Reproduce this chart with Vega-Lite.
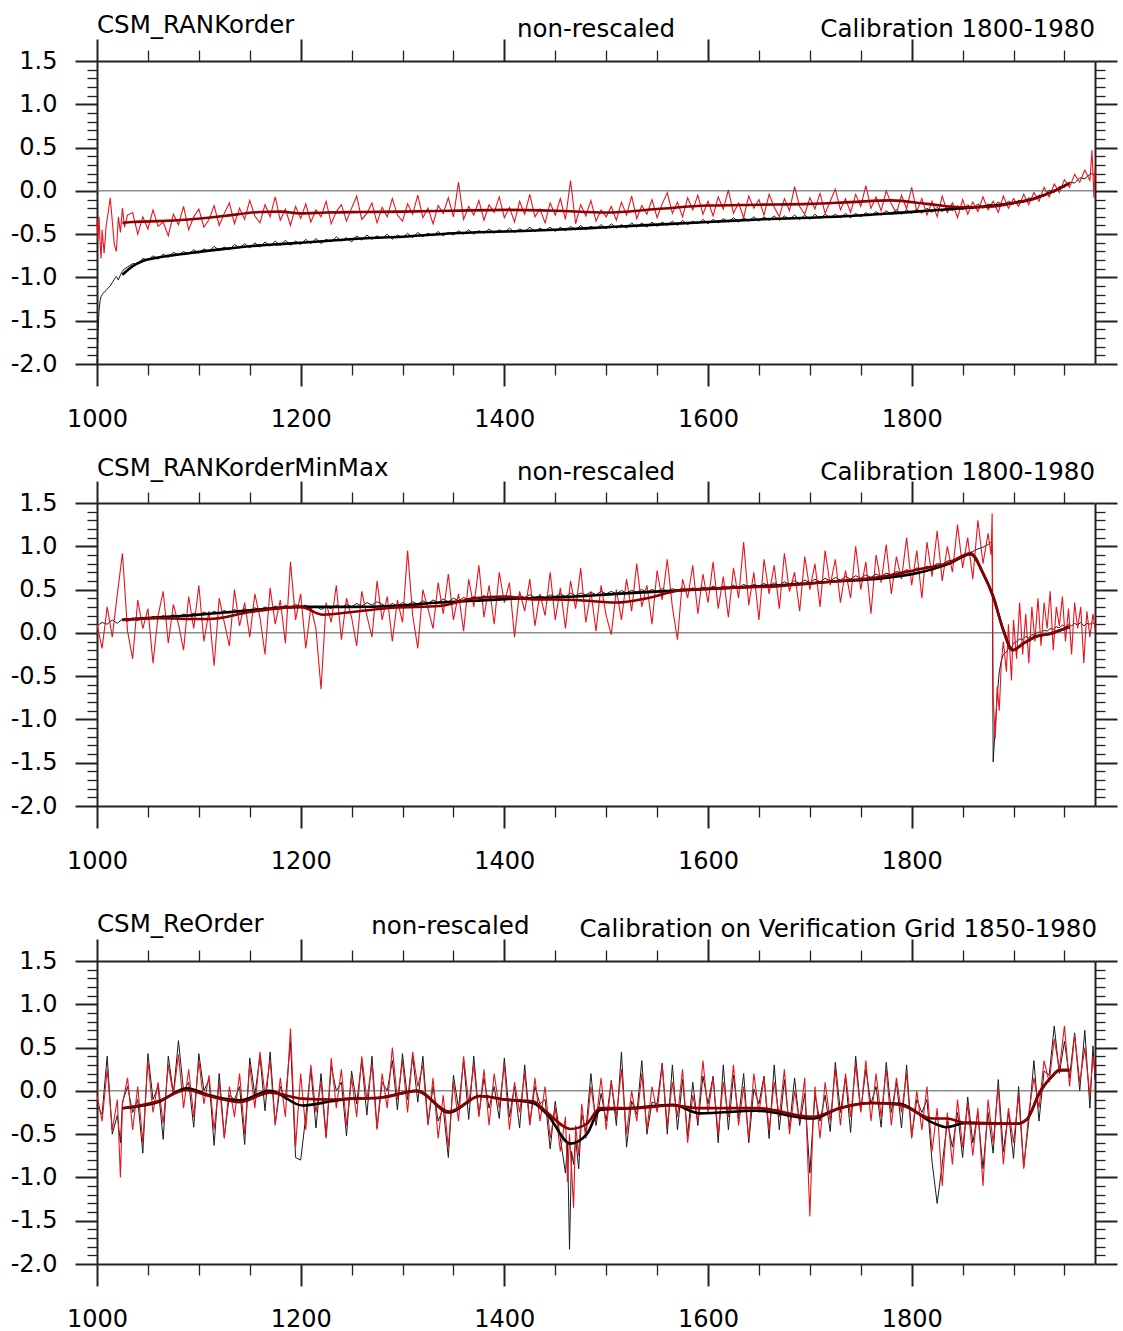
{
"$schema": "https://vega.github.io/schema/vega-lite/v6.json",
"background": "white",
"padding": {"left": 10, "top": 13, "right": 5, "bottom": 0},
"autosize": {"type": "pad"},
"bounds": "flush",
"spacing": 139,
"config": {"view": {"stroke": null}, "font": "DejaVu Sans",
 "axis": {"grid": false, "domainColor": "#222", "domainWidth": 2, "tickColor": "#222", "labelFont": "DejaVu Sans", "labelFontSize": 24, "labelColor": "black", "labelOverlap": false, "labelBound": false, "labelFlush": false}},
"datasets": {
"p1": [
{"t":1000,"r":-0.35,"k":-2.0},{"t":1001,"r":-0.55,"k":-1.62},{"t":1002,"r":-0.30,"k":-1.38},{"t":1003,"r":-0.60,"k":-1.27},{"t":1004,"r":-0.78,"k":-1.22},{"t":1005,"r":-0.45,"k":-1.20},{"t":1007,"r":-0.72,"k":-1.17},{"t":1009,"r":-0.40,"k":-1.15},{"t":1011,"r":-0.25,"k":-1.12},{"t":1013,"r":-0.08,"k":-1.10},{"t":1015,"r":-0.35,"k":-1.06},{"t":1017,"r":-0.62,"k":-1.02},{"t":1019,"r":-0.70,"k":-0.99},{"t":1021,"r":-0.30,"k":-1.03},{"t":1023,"r":-0.48,"k":-0.97},{"t":1025,"r":-0.20,"k":-0.93},{"t":1027,"r":-0.42,"k":-0.90},{"t":1030,"r":-0.28,"k":-0.88},
{"t":1035,"r":-0.25,"k":-0.84},{"t":1040,"r":-0.50,"k":-0.85},{"t":1045,"r":-0.30,"k":-0.78},{"t":1050,"r":-0.44,"k":-0.80},{"t":1055,"r":-0.22,"k":-0.75},{"t":1060,"r":-0.41,"k":-0.79},{"t":1065,"r":-0.36,"k":-0.73},{"t":1070,"r":-0.52,"k":-0.77},{"t":1075,"r":-0.27,"k":-0.71},{"t":1080,"r":-0.39,"k":-0.74},{"t":1085,"r":-0.18,"k":-0.70},{"t":1090,"r":-0.45,"k":-0.73},{"t":1095,"r":-0.30,"k":-0.68},{"t":1100,"r":-0.21,"k":-0.72},
{"t":1105,"r":-0.42,"k":-0.67},{"t":1110,"r":-0.33,"k":-0.70},{"t":1115,"r":-0.17,"k":-0.64},{"t":1120,"r":-0.40,"k":-0.69},{"t":1125,"r":-0.26,"k":-0.65},{"t":1130,"r":-0.14,"k":-0.68},{"t":1135,"r":-0.38,"k":-0.62},{"t":1140,"r":-0.20,"k":-0.66},{"t":1145,"r":-0.33,"k":-0.61},{"t":1150,"r":-0.11,"k":-0.66},{"t":1155,"r":-0.29,"k":-0.60},{"t":1160,"r":-0.37,"k":-0.65},{"t":1165,"r":-0.16,"k":-0.59},{"t":1170,"r":-0.30,"k":-0.64},{"t":1175,"r":-0.07,"k":-0.58},{"t":1180,"r":-0.34,"k":-0.63},{"t":1185,"r":-0.21,"k":-0.57},{"t":1190,"r":-0.40,"k":-0.63},{"t":1195,"r":-0.18,"k":-0.58},{"t":1200,"r":-0.32,"k":-0.62},
{"t":1205,"r":-0.15,"k":-0.56},{"t":1210,"r":-0.36,"k":-0.61},{"t":1215,"r":-0.22,"k":-0.55},{"t":1220,"r":-0.30,"k":-0.61},{"t":1225,"r":-0.12,"k":-0.56},{"t":1230,"r":-0.38,"k":-0.59},{"t":1235,"r":-0.24,"k":-0.53},{"t":1240,"r":-0.16,"k":-0.58},{"t":1245,"r":-0.35,"k":-0.54},{"t":1250,"r":-0.20,"k":-0.59},{"t":1255,"r":-0.06,"k":-0.52},{"t":1260,"r":-0.33,"k":-0.57},{"t":1265,"r":-0.26,"k":-0.51},{"t":1270,"r":-0.14,"k":-0.56},{"t":1275,"r":-0.37,"k":-0.52},{"t":1280,"r":-0.19,"k":-0.55},{"t":1285,"r":-0.30,"k":-0.50},{"t":1290,"r":-0.09,"k":-0.56},{"t":1295,"r":-0.28,"k":-0.51},{"t":1300,"r":-0.35,"k":-0.54},
{"t":1305,"r":-0.15,"k":-0.49},{"t":1310,"r":-0.27,"k":-0.54},{"t":1315,"r":-0.05,"k":-0.48},{"t":1320,"r":-0.31,"k":-0.53},{"t":1325,"r":-0.20,"k":-0.49},{"t":1330,"r":-0.38,"k":-0.52},{"t":1335,"r":-0.17,"k":-0.47},{"t":1340,"r":-0.26,"k":-0.52},{"t":1345,"r":-0.08,"k":-0.48},{"t":1350,"r":-0.30,"k":-0.51},{"t":1355,"r":0.10,"k":-0.46},{"t":1360,"r":-0.33,"k":-0.50},{"t":1365,"r":-0.18,"k":-0.45},{"t":1370,"r":-0.28,"k":-0.50},{"t":1375,"r":-0.11,"k":-0.46},{"t":1380,"r":-0.34,"k":-0.49},{"t":1385,"r":-0.16,"k":-0.44},{"t":1390,"r":-0.25,"k":-0.49},{"t":1395,"r":-0.07,"k":-0.45},{"t":1400,"r":-0.31,"k":-0.48},
{"t":1405,"r":-0.19,"k":-0.43},{"t":1410,"r":-0.36,"k":-0.48},{"t":1415,"r":-0.12,"k":-0.44},{"t":1420,"r":-0.27,"k":-0.47},{"t":1425,"r":-0.04,"k":-0.42},{"t":1430,"r":-0.30,"k":-0.47},{"t":1435,"r":-0.21,"k":-0.43},{"t":1440,"r":-0.37,"k":-0.46},{"t":1445,"r":-0.14,"k":-0.42},{"t":1450,"r":-0.28,"k":-0.47},{"t":1455,"r":-0.09,"k":-0.42},{"t":1460,"r":-0.33,"k":-0.46},{"t":1465,"r":0.12,"k":-0.41},{"t":1470,"r":-0.38,"k":-0.45},{"t":1475,"r":-0.16,"k":-0.40},{"t":1480,"r":-0.29,"k":-0.45},{"t":1485,"r":-0.11,"k":-0.41},{"t":1490,"r":-0.35,"k":-0.44},{"t":1495,"r":-0.22,"k":-0.39},{"t":1500,"r":-0.30,"k":-0.44},
{"t":1505,"r":-0.18,"k":-0.38},{"t":1510,"r":-0.34,"k":-0.43},{"t":1515,"r":-0.13,"k":-0.39},{"t":1520,"r":-0.28,"k":-0.43},{"t":1525,"r":-0.06,"k":-0.37},{"t":1530,"r":-0.32,"k":-0.42},{"t":1535,"r":-0.17,"k":-0.37},{"t":1540,"r":-0.27,"k":-0.42},{"t":1545,"r":-0.10,"k":-0.36},{"t":1550,"r":-0.31,"k":-0.41},{"t":1555,"r":-0.15,"k":-0.36},{"t":1560,"r":-0.02,"k":-0.40},{"t":1565,"r":-0.26,"k":-0.35},{"t":1570,"r":-0.13,"k":-0.40},{"t":1575,"r":-0.30,"k":-0.34},{"t":1580,"r":-0.08,"k":-0.39},{"t":1585,"r":-0.22,"k":-0.35},{"t":1590,"r":-0.05,"k":-0.38},{"t":1595,"r":-0.27,"k":-0.33},{"t":1600,"r":-0.12,"k":-0.38},
{"t":1605,"r":-0.29,"k":-0.33},{"t":1610,"r":-0.07,"k":-0.37},{"t":1615,"r":-0.21,"k":-0.32},{"t":1620,"r":0.01,"k":-0.36},{"t":1625,"r":-0.26,"k":-0.31},{"t":1630,"r":-0.14,"k":-0.36},{"t":1635,"r":-0.31,"k":-0.31},{"t":1640,"r":-0.06,"k":-0.35},{"t":1645,"r":-0.20,"k":-0.30},{"t":1650,"r":-0.10,"k":-0.35},{"t":1655,"r":-0.28,"k":-0.30},{"t":1660,"r":-0.04,"k":-0.34},{"t":1665,"r":-0.19,"k":-0.29},{"t":1670,"r":-0.30,"k":-0.34},{"t":1675,"r":-0.09,"k":-0.29},{"t":1680,"r":-0.23,"k":-0.33},{"t":1685,"r":0.05,"k":-0.28},{"t":1690,"r":-0.18,"k":-0.33},{"t":1695,"r":-0.27,"k":-0.28},{"t":1700,"r":-0.08,"k":-0.33},
{"t":1705,"r":-0.21,"k":-0.27},{"t":1710,"r":-0.03,"k":-0.32},{"t":1715,"r":-0.26,"k":-0.27},{"t":1720,"r":-0.12,"k":-0.31},{"t":1725,"r":0.02,"k":-0.27},{"t":1730,"r":-0.22,"k":-0.31},{"t":1735,"r":-0.09,"k":-0.26},{"t":1740,"r":-0.25,"k":-0.31},{"t":1745,"r":-0.04,"k":-0.26},{"t":1750,"r":-0.18,"k":-0.30},{"t":1755,"r":0.06,"k":-0.25},{"t":1760,"r":-0.20,"k":-0.29},{"t":1765,"r":-0.07,"k":-0.24},{"t":1770,"r":-0.23,"k":-0.28},{"t":1775,"r":0.00,"k":-0.23},{"t":1780,"r":-0.15,"k":-0.27},{"t":1785,"r":-0.26,"k":-0.22},{"t":1790,"r":-0.05,"k":-0.27},{"t":1795,"r":-0.21,"k":-0.22},{"t":1800,"r":0.04,"k":-0.26},
{"t":1805,"r":-0.24,"k":-0.21},{"t":1810,"r":-0.09,"k":-0.26},{"t":1815,"r":-0.28,"k":-0.20},{"t":1820,"r":-0.12,"k":-0.25},{"t":1825,"r":-0.30,"k":-0.19},{"t":1830,"r":-0.06,"k":-0.24},{"t":1835,"r":-0.25,"k":-0.18},{"t":1840,"r":-0.14,"k":-0.23},{"t":1845,"r":-0.31,"k":-0.17},{"t":1850,"r":-0.10,"k":-0.22},{"t":1855,"r":-0.27,"k":-0.16},{"t":1860,"r":-0.13,"k":-0.21},{"t":1865,"r":-0.24,"k":-0.15},{"t":1870,"r":-0.07,"k":-0.20},{"t":1875,"r":-0.22,"k":-0.15},{"t":1880,"r":-0.12,"k":-0.18},{"t":1885,"r":-0.25,"k":-0.13},{"t":1890,"r":-0.06,"k":-0.17},{"t":1895,"r":-0.20,"k":-0.12},{"t":1900,"r":-0.09,"k":-0.15},
{"t":1905,"r":-0.18,"k":-0.11},{"t":1910,"r":-0.04,"k":-0.13},{"t":1915,"r":-0.16,"k":-0.08},{"t":1920,"r":-0.02,"k":-0.10},{"t":1925,"r":-0.12,"k":-0.05},{"t":1930,"r":0.04,"k":-0.06},{"t":1935,"r":-0.07,"k":0.01},{"t":1940,"r":0.08,"k":-0.02},{"t":1945,"r":-0.02,"k":0.05},{"t":1950,"r":0.13,"k":0.04},{"t":1955,"r":0.04,"k":0.10},{"t":1960,"r":0.19,"k":0.09},{"t":1965,"r":0.10,"k":0.15},{"t":1970,"r":0.24,"k":0.14},{"t":1975,"r":0.12,"k":0.19},{"t":1977,"r":0.47,"k":0.20},{"t":1979,"r":-0.08,"k":0.18},{"t":1980,"r":0.25,"k":0.21}
],
"s1": [
{"t":1025,"r":-0.37,"k":-0.97},{"t":1035,"r":-0.36,"k":-0.87},{"t":1045,"r":-0.355,"k":-0.81},{"t":1060,"r":-0.35,"k":-0.77},{"t":1090,"r":-0.33,"k":-0.72},{"t":1125,"r":-0.29,"k":-0.67},{"t":1160,"r":-0.245,"k":-0.63},{"t":1180,"r":-0.24,"k":-0.615},{"t":1200,"r":-0.26,"k":-0.60},{"t":1225,"r":-0.25,"k":-0.58},{"t":1260,"r":-0.245,"k":-0.55},{"t":1300,"r":-0.24,"k":-0.53},{"t":1350,"r":-0.23,"k":-0.49},{"t":1400,"r":-0.22,"k":-0.47},{"t":1450,"r":-0.23,"k":-0.45},{"t":1500,"r":-0.25,"k":-0.42},{"t":1550,"r":-0.21,"k":-0.39},{"t":1600,"r":-0.17,"k":-0.36},{"t":1650,"r":-0.16,"k":-0.33},{"t":1700,"r":-0.15,"k":-0.31},{"t":1740,"r":-0.13,"k":-0.29},{"t":1780,"r":-0.11,"k":-0.26},{"t":1815,"r":-0.15,"k":-0.23},{"t":1850,"r":-0.19,"k":-0.20},{"t":1880,"r":-0.18,"k":-0.17},{"t":1900,"r":-0.14,"k":-0.14},{"t":1920,"r":-0.09,"k":-0.09},{"t":1940,"r":0.0,"k":0.0},{"t":1955,"r":0.09,"k":0.09}
],
"p2": [
{"t":1000,"r":0.10,"k":0.08},{"t":1005,"r":-0.18,"k":0.12},{"t":1010,"r":0.30,"k":0.10},{"t":1015,"r":-0.05,"k":0.15},{"t":1020,"r":0.45,"k":0.11},{"t":1025,"r":0.92,"k":0.16},{"t":1030,"r":0.02,"k":0.13},{"t":1035,"r":-0.30,"k":0.17},{"t":1040,"r":0.38,"k":0.14},{"t":1045,"r":0.05,"k":0.18},{"t":1050,"r":0.28,"k":0.15},{"t":1055,"r":-0.35,"k":0.19},{"t":1060,"r":0.20,"k":0.16},{"t":1065,"r":0.48,"k":0.20},{"t":1070,"r":-0.12,"k":0.17},{"t":1075,"r":0.33,"k":0.21},{"t":1080,"r":0.10,"k":0.18},{"t":1085,"r":-0.20,"k":0.22},{"t":1090,"r":0.42,"k":0.19},{"t":1095,"r":0.05,"k":0.23},{"t":1100,"r":0.55,"k":0.20},
{"t":1105,"r":-0.10,"k":0.24},{"t":1110,"r":0.25,"k":0.21},{"t":1115,"r":-0.38,"k":0.25},{"t":1120,"r":0.40,"k":0.22},{"t":1125,"r":0.12,"k":0.26},{"t":1130,"r":-0.15,"k":0.23},{"t":1135,"r":0.50,"k":0.27},{"t":1140,"r":0.08,"k":0.24},{"t":1145,"r":0.35,"k":0.28},{"t":1150,"r":-0.05,"k":0.25},{"t":1155,"r":0.45,"k":0.29},{"t":1160,"r":0.18,"k":0.26},{"t":1165,"r":-0.25,"k":0.30},{"t":1170,"r":0.52,"k":0.27},{"t":1175,"r":0.10,"k":0.31},{"t":1180,"r":0.38,"k":0.28},{"t":1185,"r":-0.12,"k":0.32},{"t":1190,"r":0.82,"k":0.29},{"t":1195,"r":0.15,"k":0.33},{"t":1200,"r":0.45,"k":0.30},
{"t":1205,"r":-0.18,"k":0.32},{"t":1210,"r":0.30,"k":0.28},{"t":1215,"r":0.05,"k":0.31},{"t":1220,"r":-0.65,"k":0.27},{"t":1225,"r":0.35,"k":0.30},{"t":1230,"r":0.12,"k":0.28},{"t":1235,"r":0.55,"k":0.32},{"t":1240,"r":-0.08,"k":0.29},{"t":1245,"r":0.40,"k":0.33},{"t":1250,"r":0.18,"k":0.30},{"t":1255,"r":-0.15,"k":0.34},{"t":1260,"r":0.48,"k":0.31},{"t":1265,"r":0.20,"k":0.35},{"t":1270,"r":-0.05,"k":0.32},{"t":1275,"r":0.60,"k":0.36},{"t":1280,"r":0.15,"k":0.33},{"t":1285,"r":0.42,"k":0.30},{"t":1290,"r":-0.10,"k":0.34},{"t":1295,"r":0.38,"k":0.31},{"t":1300,"r":0.12,"k":0.35},
{"t":1305,"r":0.95,"k":0.32},{"t":1310,"r":0.20,"k":0.36},{"t":1315,"r":-0.18,"k":0.33},{"t":1320,"r":0.50,"k":0.37},{"t":1325,"r":0.28,"k":0.34},{"t":1330,"r":0.05,"k":0.38},{"t":1335,"r":0.58,"k":0.35},{"t":1340,"r":0.22,"k":0.39},{"t":1345,"r":0.68,"k":0.36},{"t":1350,"r":0.15,"k":0.40},{"t":1355,"r":0.45,"k":0.37},{"t":1360,"r":0.02,"k":0.41},{"t":1365,"r":0.62,"k":0.38},{"t":1370,"r":0.30,"k":0.42},{"t":1375,"r":0.78,"k":0.39},{"t":1380,"r":0.18,"k":0.43},{"t":1385,"r":0.55,"k":0.40},{"t":1390,"r":0.10,"k":0.38},{"t":1395,"r":0.70,"k":0.41},{"t":1400,"r":0.35,"k":0.39},
{"t":1405,"r":0.58,"k":0.42},{"t":1410,"r":-0.05,"k":0.40},{"t":1415,"r":0.48,"k":0.43},{"t":1420,"r":0.25,"k":0.41},{"t":1425,"r":0.62,"k":0.44},{"t":1430,"r":0.08,"k":0.41},{"t":1435,"r":0.45,"k":0.43},{"t":1440,"r":0.20,"k":0.40},{"t":1445,"r":0.70,"k":0.44},{"t":1450,"r":0.15,"k":0.42},{"t":1455,"r":0.52,"k":0.45},{"t":1460,"r":0.05,"k":0.42},{"t":1465,"r":0.60,"k":0.46},{"t":1470,"r":0.28,"k":0.43},{"t":1475,"r":0.75,"k":0.46},{"t":1480,"r":0.12,"k":0.44},{"t":1485,"r":0.48,"k":0.47},{"t":1490,"r":0.02,"k":0.44},{"t":1495,"r":0.55,"k":0.48},{"t":1500,"r":0.20,"k":0.45},
{"t":1505,"r":-0.02,"k":0.48},{"t":1510,"r":0.50,"k":0.45},{"t":1515,"r":0.15,"k":0.49},{"t":1520,"r":0.62,"k":0.46},{"t":1525,"r":0.25,"k":0.49},{"t":1530,"r":0.80,"k":0.47},{"t":1535,"r":0.30,"k":0.50},{"t":1540,"r":0.55,"k":0.47},{"t":1545,"r":0.10,"k":0.50},{"t":1550,"r":0.72,"k":0.48},{"t":1555,"r":0.38,"k":0.51},{"t":1560,"r":0.85,"k":0.48},{"t":1565,"r":0.30,"k":0.51},{"t":1570,"r":-0.08,"k":0.49},{"t":1575,"r":0.62,"k":0.52},{"t":1580,"r":0.40,"k":0.49},{"t":1585,"r":0.78,"k":0.52},{"t":1590,"r":0.22,"k":0.50},{"t":1595,"r":0.68,"k":0.53},{"t":1600,"r":0.35,"k":0.50},
{"t":1605,"r":0.82,"k":0.54},{"t":1610,"r":0.28,"k":0.51},{"t":1615,"r":0.65,"k":0.54},{"t":1620,"r":0.18,"k":0.52},{"t":1625,"r":0.75,"k":0.55},{"t":1630,"r":0.40,"k":0.52},{"t":1635,"r":1.05,"k":0.56},{"t":1640,"r":0.32,"k":0.53},{"t":1645,"r":0.70,"k":0.56},{"t":1650,"r":0.15,"k":0.54},{"t":1655,"r":0.85,"k":0.57},{"t":1660,"r":0.45,"k":0.54},{"t":1665,"r":0.78,"k":0.58},{"t":1670,"r":0.28,"k":0.55},{"t":1675,"r":0.92,"k":0.59},{"t":1680,"r":0.48,"k":0.56},{"t":1685,"r":0.70,"k":0.60},{"t":1690,"r":0.25,"k":0.57},{"t":1695,"r":0.88,"k":0.61},{"t":1700,"r":0.50,"k":0.58},
{"t":1705,"r":0.80,"k":0.62},{"t":1710,"r":0.30,"k":0.59},{"t":1715,"r":0.95,"k":0.63},{"t":1720,"r":0.55,"k":0.60},{"t":1725,"r":0.85,"k":0.64},{"t":1730,"r":0.35,"k":0.61},{"t":1735,"r":0.72,"k":0.65},{"t":1740,"r":0.40,"k":0.62},{"t":1745,"r":1.00,"k":0.66},{"t":1750,"r":0.50,"k":0.63},{"t":1755,"r":0.82,"k":0.67},{"t":1760,"r":0.22,"k":0.64},{"t":1765,"r":0.90,"k":0.68},{"t":1770,"r":0.58,"k":0.65},{"t":1775,"r":1.02,"k":0.69},{"t":1780,"r":0.45,"k":0.67},{"t":1785,"r":0.88,"k":0.71},{"t":1790,"r":0.62,"k":0.69},{"t":1795,"r":1.10,"k":0.73},{"t":1800,"r":0.55,"k":0.71},
{"t":1805,"r":0.95,"k":0.75},{"t":1810,"r":0.40,"k":0.73},{"t":1815,"r":1.05,"k":0.77},{"t":1820,"r":0.65,"k":0.76},{"t":1825,"r":1.18,"k":0.80},{"t":1830,"r":0.60,"k":0.79},{"t":1835,"r":1.00,"k":0.83},{"t":1840,"r":0.70,"k":0.84},{"t":1845,"r":1.25,"k":0.87},{"t":1850,"r":0.75,"k":0.89},{"t":1855,"r":1.10,"k":0.92},{"t":1860,"r":0.62,"k":0.94},{"t":1865,"r":1.30,"k":0.97},{"t":1870,"r":0.80,"k":0.99},{"t":1875,"r":1.15,"k":1.02},{"t":1878,"r":0.90,"k":1.05},{"t":1879,"r":1.38,"k":1.00},
{"t":1880,"r":-0.75,"k":-1.49},{"t":1882,"r":-1.22,"k":-1.10},{"t":1884,"r":-0.62,"k":-0.72},{"t":1886,"r":-0.90,"k":-0.45},{"t":1888,"r":-0.35,"k":-0.32},{"t":1890,"r":-0.10,"k":-0.25},{"t":1893,"r":-0.45,"k":-0.22},{"t":1895,"r":0.10,"k":-0.18},{"t":1898,"r":-0.55,"k":-0.17},{"t":1900,"r":0.15,"k":-0.12},{"t":1903,"r":-0.30,"k":-0.10},{"t":1906,"r":0.35,"k":-0.07},{"t":1909,"r":-0.25,"k":-0.08},{"t":1912,"r":0.22,"k":-0.04},{"t":1915,"r":-0.35,"k":-0.06},{"t":1918,"r":0.30,"k":-0.02},{"t":1921,"r":-0.10,"k":-0.03},{"t":1924,"r":0.40,"k":0.01},{"t":1927,"r":-0.15,"k":0.00},{"t":1930,"r":0.35,"k":0.03},{"t":1933,"r":0.05,"k":0.02},{"t":1936,"r":0.48,"k":0.05},{"t":1939,"r":-0.20,"k":0.04},{"t":1942,"r":0.30,"k":0.07},{"t":1945,"r":0.08,"k":0.06},{"t":1948,"r":0.42,"k":0.09},{"t":1951,"r":-0.10,"k":0.07},{"t":1954,"r":0.28,"k":0.10},{"t":1957,"r":-0.25,"k":0.08},{"t":1960,"r":0.35,"k":0.11},{"t":1963,"r":0.05,"k":0.09},{"t":1966,"r":0.30,"k":0.12},{"t":1969,"r":-0.35,"k":0.08},{"t":1972,"r":0.25,"k":0.11},{"t":1975,"r":-0.05,"k":0.10},{"t":1978,"r":0.22,"k":0.12},{"t":1980,"r":0.05,"k":0.09}
],
"s2": [
{"t":1025,"r":0.15,"k":0.15},{"t":1060,"r":0.17,"k":0.18},{"t":1090,"r":0.16,"k":0.20},{"t":1110,"r":0.16,"k":0.22},{"t":1150,"r":0.24,"k":0.26},{"t":1200,"r":0.30,"k":0.30},{"t":1222,"r":0.21,"k":0.30},{"t":1250,"r":0.24,"k":0.30},{"t":1290,"r":0.29,"k":0.31},{"t":1337,"r":0.31,"k":0.35},{"t":1370,"r":0.40,"k":0.37},{"t":1400,"r":0.42,"k":0.39},{"t":1425,"r":0.39,"k":0.40},{"t":1470,"r":0.38,"k":0.42},{"t":1510,"r":0.35,"k":0.45},{"t":1540,"r":0.40,"k":0.47},{"t":1572,"r":0.49,"k":0.49},{"t":1620,"r":0.52,"k":0.52},{"t":1670,"r":0.54,"k":0.55},{"t":1720,"r":0.59,"k":0.59},{"t":1772,"r":0.65,"k":0.63},{"t":1805,"r":0.73,"k":0.69},{"t":1837,"r":0.81,"k":0.80},{"t":1858,"r":0.92,"k":0.91},{"t":1870,"r":0.69,"k":0.69},{"t":1880,"r":0.42,"k":0.42},{"t":1890,"r":0.03,"k":0.03},{"t":1899,"r":-0.20,"k":-0.20},{"t":1910,"r":-0.12,"k":-0.12},{"t":1923,"r":-0.04,"k":-0.04},{"t":1936,"r":-0.01,"k":-0.01},{"t":1955,"r":0.07,"k":0.07}
],
"p3": [
{"t":1000,"r":-0.05,"k":-0.17},{"t":1005,"r":-0.35,"k":-0.27},{"t":1010,"r":0.25,"k":0.40},{"t":1015,"r":-0.45,"k":-0.50},{"t":1020,"r":-0.10,"k":-0.28},{"t":1023,"r":-1.00,"k":-0.60},{"t":1025,"r":-0.15,"k":-0.13},{"t":1030,"r":0.15,"k":0.05},{"t":1035,"r":-0.45,"k":-0.25},{"t":1040,"r":0.05,"k":-0.10},{"t":1045,"r":-0.60,"k":-0.72},{"t":1050,"r":0.35,"k":0.43},{"t":1055,"r":-0.25,"k":-0.10},{"t":1060,"r":0.10,"k":0.05},{"t":1065,"r":-0.38,"k":-0.56},{"t":1070,"r":0.30,"k":0.40},{"t":1075,"r":-0.05,"k":-0.03},{"t":1080,"r":0.42,"k":0.58},{"t":1085,"r":-0.20,"k":0.00},{"t":1090,"r":0.25,"k":0.10},{"t":1095,"r":-0.30,"k":-0.42},{"t":1100,"r":0.35,"k":0.43},
{"t":1105,"r":-0.15,"k":0.00},{"t":1110,"r":0.18,"k":0.13},{"t":1115,"r":-0.45,"k":-0.63},{"t":1120,"r":0.10,"k":0.20},{"t":1125,"r":-0.55,"k":-0.53},{"t":1130,"r":0.05,"k":-0.05},{"t":1135,"r":-0.30,"k":-0.10},{"t":1140,"r":0.20,"k":0.05},{"t":1145,"r":-0.50,"k":-0.62},{"t":1150,"r":0.30,"k":0.38},{"t":1155,"r":-0.20,"k":-0.05},{"t":1160,"r":0.45,"k":0.40},{"t":1165,"r":-0.05,"k":-0.23},{"t":1170,"r":0.35,"k":0.45},{"t":1175,"r":-0.40,"k":-0.38},{"t":1180,"r":0.15,"k":0.05},{"t":1185,"r":-0.30,"k":-0.10},{"t":1190,"r":0.72,"k":0.57},{"t":1195,"r":-0.65,"k":-0.77},{"t":1200,"r":0.20,"k":-0.80},
{"t":1205,"r":-0.45,"k":-0.30},{"t":1210,"r":0.30,"k":0.25},{"t":1215,"r":-0.25,"k":-0.43},{"t":1220,"r":0.10,"k":0.20},{"t":1225,"r":-0.55,"k":-0.53},{"t":1230,"r":0.38,"k":0.28},{"t":1235,"r":-0.20,"k":0.00},{"t":1240,"r":0.25,"k":0.10},{"t":1245,"r":-0.40,"k":-0.52},{"t":1250,"r":0.15,"k":0.23},{"t":1255,"r":-0.30,"k":-0.15},{"t":1260,"r":0.40,"k":0.35},{"t":1265,"r":-0.10,"k":-0.28},{"t":1270,"r":0.30,"k":0.40},{"t":1275,"r":-0.45,"k":-0.43},{"t":1280,"r":0.20,"k":0.10},{"t":1285,"r":-0.20,"k":0.00},{"t":1290,"r":0.50,"k":0.35},{"t":1295,"r":-0.10,"k":-0.22},{"t":1300,"r":0.35,"k":0.43},
{"t":1305,"r":-0.25,"k":-0.10},{"t":1310,"r":0.45,"k":0.40},{"t":1315,"r":0.05,"k":-0.13},{"t":1320,"r":0.30,"k":0.40},{"t":1325,"r":-0.40,"k":-0.38},{"t":1330,"r":0.15,"k":0.05},{"t":1335,"r":-0.55,"k":-0.35},{"t":1340,"r":-0.05,"k":-0.20},{"t":1345,"r":-0.65,"k":-0.77},{"t":1350,"r":0.10,"k":0.18},{"t":1355,"r":-0.35,"k":-0.20},{"t":1360,"r":0.40,"k":0.35},{"t":1365,"r":-0.15,"k":-0.33},{"t":1370,"r":0.30,"k":0.40},{"t":1375,"r":-0.30,"k":-0.28},{"t":1380,"r":0.25,"k":0.15},{"t":1385,"r":-0.40,"k":-0.20},{"t":1390,"r":0.20,"k":0.05},{"t":1395,"r":-0.20,"k":-0.32},{"t":1400,"r":0.30,"k":0.38},
{"t":1405,"r":-0.45,"k":-0.30},{"t":1410,"r":0.10,"k":0.05},{"t":1415,"r":-0.25,"k":-0.43},{"t":1420,"r":0.20,"k":0.30},{"t":1425,"r":-0.40,"k":-0.38},{"t":1430,"r":0.15,"k":0.05},{"t":1435,"r":-0.35,"k":-0.15},{"t":1440,"r":0.05,"k":-0.10},{"t":1445,"r":-0.55,"k":-0.67},{"t":1450,"r":-0.20,"k":-0.12},{"t":1455,"r":-0.70,"k":-0.55},{"t":1460,"r":-0.30,"k":-0.95},{"t":1462,"r":-1.05,"k":-0.60},{"t":1464,"r":-0.50,"k":-1.83},{"t":1466,"r":-0.90,"k":-0.70},{"t":1468,"r":-1.35,"k":-0.85},{"t":1470,"r":-0.40,"k":-0.55},{"t":1473,"r":-0.75,"k":-0.90},{"t":1476,"r":-0.15,"k":-0.27},{"t":1480,"r":-0.55,"k":-0.47},{"t":1485,"r":0.05,"k":0.20},{"t":1490,"r":-0.35,"k":-0.40},{"t":1495,"r":0.15,"k":-0.03},{"t":1500,"r":-0.45,"k":-0.35},
{"t":1505,"r":0.10,"k":0.12},{"t":1510,"r":-0.30,"k":-0.40},{"t":1515,"r":0.25,"k":0.45},{"t":1520,"r":-0.50,"k":-0.65},{"t":1525,"r":0.00,"k":-0.12},{"t":1530,"r":-0.35,"k":-0.27},{"t":1535,"r":0.20,"k":0.35},{"t":1540,"r":-0.45,"k":-0.50},{"t":1545,"r":0.05,"k":-0.13},{"t":1550,"r":-0.25,"k":-0.15},{"t":1555,"r":0.30,"k":0.32},{"t":1560,"r":-0.40,"k":-0.50},{"t":1565,"r":0.10,"k":0.30},{"t":1570,"r":-0.30,"k":-0.45},{"t":1575,"r":0.25,"k":0.13},{"t":1580,"r":-0.60,"k":-0.52},{"t":1585,"r":-0.05,"k":0.10},{"t":1590,"r":-0.35,"k":-0.40},{"t":1595,"r":0.35,"k":0.17},{"t":1600,"r":-0.25,"k":-0.15},
{"t":1605,"r":0.15,"k":0.17},{"t":1610,"r":-0.50,"k":-0.60},{"t":1615,"r":0.10,"k":0.30},{"t":1620,"r":-0.30,"k":-0.45},{"t":1625,"r":0.30,"k":0.18},{"t":1630,"r":-0.40,"k":-0.32},{"t":1635,"r":0.05,"k":0.20},{"t":1640,"r":-0.55,"k":-0.60},{"t":1645,"r":0.20,"k":0.02},{"t":1650,"r":-0.25,"k":-0.15},{"t":1655,"r":0.15,"k":0.17},{"t":1660,"r":-0.45,"k":-0.55},{"t":1665,"r":0.10,"k":0.30},{"t":1670,"r":-0.30,"k":-0.45},{"t":1675,"r":0.25,"k":0.13},{"t":1680,"r":-0.50,"k":-0.42},{"t":1685,"r":0.00,"k":0.15},{"t":1690,"r":-0.35,"k":-0.40},{"t":1695,"r":0.15,"k":-0.03},{"t":1700,"r":-1.45,"k":-0.95},
{"t":1703,"r":-0.40,"k":-0.38},{"t":1705,"r":0.05,"k":-0.05},{"t":1710,"r":-0.55,"k":-0.35},{"t":1715,"r":0.10,"k":-0.05},{"t":1720,"r":-0.35,"k":-0.47},{"t":1725,"r":0.25,"k":0.33},{"t":1730,"r":-0.40,"k":-0.25},{"t":1735,"r":0.20,"k":0.15},{"t":1740,"r":-0.30,"k":-0.48},{"t":1745,"r":0.30,"k":0.40},{"t":1750,"r":-0.25,"k":-0.23},{"t":1755,"r":0.35,"k":0.25},{"t":1760,"r":-0.35,"k":-0.15},{"t":1765,"r":0.20,"k":0.05},{"t":1770,"r":-0.30,"k":-0.42},{"t":1775,"r":0.25,"k":0.33},{"t":1780,"r":-0.40,"k":-0.25},{"t":1785,"r":0.15,"k":0.10},{"t":1790,"r":-0.25,"k":-0.43},{"t":1795,"r":0.20,"k":0.30},{"t":1800,"r":-0.55,"k":-0.53},
{"t":1805,"r":0.00,"k":-0.10},{"t":1810,"r":-0.45,"k":-0.25},{"t":1815,"r":0.05,"k":-0.10},{"t":1820,"r":-0.70,"k":-0.82},{"t":1825,"r":-0.20,"k":-1.30},{"t":1830,"r":-1.10,"k":-0.85},{"t":1835,"r":-0.25,"k":-0.35},{"t":1840,"r":-0.85,"k":-0.65},{"t":1845,"r":-0.10,"k":-0.25},{"t":1850,"r":-0.65,"k":-0.77},{"t":1855,"r":-0.15,"k":-0.07},{"t":1860,"r":-0.75,"k":-0.60},{"t":1865,"r":-0.20,"k":-0.25},{"t":1870,"r":-1.10,"k":-0.90},{"t":1875,"r":-0.10,"k":-0.25},{"t":1880,"r":-0.60,"k":-0.72},{"t":1885,"r":0.05,"k":0.13},{"t":1890,"r":-0.85,"k":-0.70},{"t":1895,"r":-0.20,"k":-0.25},{"t":1900,"r":-0.60,"k":-0.78},
{"t":1905,"r":-0.05,"k":0.05},{"t":1910,"r":-0.90,"k":-0.88},{"t":1915,"r":-0.25,"k":-0.35},{"t":1920,"r":0.15,"k":0.35},{"t":1925,"r":-0.20,"k":-0.35},{"t":1930,"r":0.35,"k":0.23},{"t":1935,"r":0.10,"k":0.18},{"t":1940,"r":0.60,"k":0.75},{"t":1945,"r":0.25,"k":0.20},{"t":1950,"r":0.75,"k":0.57},{"t":1955,"r":0.05,"k":0.15},{"t":1960,"r":0.65,"k":0.67},{"t":1965,"r":0.10,"k":0.00},{"t":1970,"r":0.50,"k":0.70},{"t":1975,"r":-0.05,"k":-0.20},{"t":1978,"r":0.40,"k":0.52},{"t":1980,"r":0.20,"k":0.13}
],
"s3": [
{"t":1025,"r":-0.20,"k":-0.20},{"t":1060,"r":-0.12,"k":-0.13},{"t":1088,"r":0.01,"k":0.03},{"t":1110,"r":-0.06,"k":-0.05},{"t":1124,"r":-0.10,"k":-0.09},{"t":1140,"r":-0.13,"k":-0.11},{"t":1170,"r":-0.02,"k":0.00},{"t":1202,"r":-0.09,"k":-0.17},{"t":1230,"r":-0.10,"k":-0.12},{"t":1250,"r":-0.09,"k":-0.09},{"t":1278,"r":-0.08,"k":-0.08},{"t":1314,"r":0.00,"k":0.00},{"t":1346,"r":-0.24,"k":-0.25},{"t":1376,"r":-0.06,"k":-0.06},{"t":1400,"r":-0.10,"k":-0.10},{"t":1428,"r":-0.12,"k":-0.14},{"t":1442,"r":-0.25,"k":-0.27},{"t":1465,"r":-0.44,"k":-0.61},{"t":1481,"r":-0.38,"k":-0.50},{"t":1494,"r":-0.20,"k":-0.22},{"t":1526,"r":-0.20,"k":-0.20},{"t":1565,"r":-0.17,"k":-0.16},{"t":1592,"r":-0.20,"k":-0.26},{"t":1648,"r":-0.20,"k":-0.23},{"t":1703,"r":-0.30,"k":-0.32},{"t":1729,"r":-0.20,"k":-0.20},{"t":1762,"r":-0.14,"k":-0.14},{"t":1788,"r":-0.16,"k":-0.15},{"t":1821,"r":-0.32,"k":-0.37},{"t":1834,"r":-0.32,"k":-0.42},{"t":1853,"r":-0.37,"k":-0.37},{"t":1903,"r":-0.38,"k":-0.38},{"t":1913,"r":-0.33,"k":-0.33},{"t":1926,"r":-0.01,"k":-0.01},{"t":1938,"r":0.17,"k":0.17},{"t":1945,"r":0.24,"k":0.24},{"t":1955,"r":0.24,"k":0.24}
]
},
"vconcat": [
{
"width": 998, "height": 303,
"resolve": {"axis": {"x": "independent", "y": "independent"}},
"layer": [
{"data": {"name": "p1"}, "mark": {"type": "line", "color": "#1a1a1a", "strokeWidth": 1},
 "encoding": {
  "x": {"field": "t", "type": "quantitative", "scale": {"domain": [1000, 1980], "nice": false, "zero": false},
   "axis": {"orient": "bottom", "title": null, "values": [1000,1050,1100,1150,1200,1250,1300,1350,1400,1450,1500,1550,1600,1650,1700,1750,1800,1850,1900,1950], "format": "d", "labelExpr": "datum.value % 200 === 0 ? datum.label : ''", "tickSize": {"condition": {"test": "datum.value % 200 === 0", "value": 22}, "value": 11}, "tickWidth": {"condition": {"test": "datum.value % 200 === 0", "value": 2}, "value": 1.3}, "labelPadding": 21}},
  "y": {"field": "k", "type": "quantitative", "scale": {"domain": [-2, 1.5], "nice": false, "zero": false},
   "axis": {"orient": "left", "title": null, "values": [-2,-1.9,-1.8,-1.7,-1.6,-1.5,-1.4,-1.3,-1.2,-1.1,-1,-0.9,-0.8,-0.7,-0.6,-0.5,-0.4,-0.3,-0.2,-0.1,0,0.1,0.2,0.3,0.4,0.5,0.6,0.7,0.8,0.9,1,1.1,1.2,1.3,1.4,1.5], "labelExpr": "abs(round(datum.value*10)) % 5 === 0 ? replace(format(datum.value, '.1f'), '\u2212', '-') : ''", "tickSize": {"condition": {"test": "abs(round(datum.value*10)) % 5 === 0", "value": 22}, "value": 10}, "tickWidth": {"condition": {"test": "abs(round(datum.value*10)) % 5 === 0", "value": 2}, "value": 1.3}, "labelPadding": 18}}}},
{"data": {"name": "p1"}, "mark": {"type": "line", "color": "#e8141e", "strokeWidth": 1.1},
 "encoding": {
  "x": {"field": "t", "type": "quantitative", "scale": {"domain": [1000, 1980], "nice": false, "zero": false},
   "axis": {"orient": "top", "title": null, "labels": false, "values": [1000,1050,1100,1150,1200,1250,1300,1350,1400,1450,1500,1550,1600,1650,1700,1750,1800,1850,1900,1950], "tickSize": {"condition": {"test": "datum.value % 200 === 0", "value": 22}, "value": 11}, "tickWidth": {"condition": {"test": "datum.value % 200 === 0", "value": 2}, "value": 1.3}}},
  "y": {"field": "r", "type": "quantitative", "scale": {"domain": [-2, 1.5], "nice": false, "zero": false},
   "axis": {"orient": "right", "title": null, "labels": false, "values": [-2,-1.9,-1.8,-1.7,-1.6,-1.5,-1.4,-1.3,-1.2,-1.1,-1,-0.9,-0.8,-0.7,-0.6,-0.5,-0.4,-0.3,-0.2,-0.1,0,0.1,0.2,0.3,0.4,0.5,0.6,0.7,0.8,0.9,1,1.1,1.2,1.3,1.4,1.5], "tickSize": {"condition": {"test": "abs(round(datum.value*10)) % 5 === 0", "value": 22}, "value": 10}, "tickWidth": {"condition": {"test": "abs(round(datum.value*10)) % 5 === 0", "value": 2}, "value": 1.3}}}}},
{"data": {"values": [{}]}, "mark": {"type": "rule", "color": "#555", "strokeWidth": 1},
 "encoding": {"y": {"datum": 0, "type": "quantitative", "scale": {"domain": [-2, 1.5], "nice": false, "zero": false}, "axis": null}}},
{"data": {"name": "s1"}, "mark": {"type": "line", "color": "#000000", "strokeWidth": 2.6, "interpolate": "monotone"},
 "encoding": {"x": {"field": "t", "type": "quantitative", "scale": {"domain": [1000, 1980], "nice": false, "zero": false}, "axis": null}, "y": {"field": "k", "type": "quantitative", "scale": {"domain": [-2, 1.5], "nice": false, "zero": false}, "axis": null}}},
{"data": {"name": "s1"}, "mark": {"type": "line", "color": "#8b0000", "strokeWidth": 2.6, "interpolate": "monotone"},
 "encoding": {"x": {"field": "t", "type": "quantitative", "scale": {"domain": [1000, 1980], "nice": false, "zero": false}, "axis": null}, "y": {"field": "r", "type": "quantitative", "scale": {"domain": [-2, 1.5], "nice": false, "zero": false}, "axis": null}}},
{"data": {"values": [{}]}, "mark": {"type": "text", "text": "CSM_RANKorder", "align": "left", "baseline": "alphabetic", "fontSize": 24.5, "font": "DejaVu Sans", "color": "black"},
 "encoding": {"x": {"datum": 1000, "type": "quantitative", "scale": {"domain": [1000, 1980], "nice": false, "zero": false}, "axis": null}, "y": {"datum": 1.82, "type": "quantitative", "scale": {"domain": [-2, 1.5], "nice": false, "zero": false}, "axis": null}}},
{"data": {"values": [{}]}, "mark": {"type": "text", "text": "non-rescaled", "align": "center", "baseline": "alphabetic", "fontSize": 24.5, "font": "DejaVu Sans", "color": "black"},
 "encoding": {"x": {"datum": 1490, "type": "quantitative", "scale": {"domain": [1000, 1980], "nice": false, "zero": false}, "axis": null}, "y": {"datum": 1.775, "type": "quantitative", "scale": {"domain": [-2, 1.5], "nice": false, "zero": false}, "axis": null}}},
{"data": {"values": [{}]}, "mark": {"type": "text", "text": "Calibration 1800-1980", "align": "right", "baseline": "alphabetic", "fontSize": 24.5, "font": "DejaVu Sans", "color": "black"},
 "encoding": {"x": {"datum": 1980, "type": "quantitative", "scale": {"domain": [1000, 1980], "nice": false, "zero": false}, "axis": null}, "y": {"datum": 1.78, "type": "quantitative", "scale": {"domain": [-2, 1.5], "nice": false, "zero": false}, "axis": null}}}
]
},
{
"width": 998, "height": 303,
"resolve": {"axis": {"x": "independent", "y": "independent"}},
"layer": [
{"data": {"name": "p2"}, "mark": {"type": "line", "color": "#1a1a1a", "strokeWidth": 1},
 "encoding": {
  "x": {"field": "t", "type": "quantitative", "scale": {"domain": [1000, 1980], "nice": false, "zero": false},
   "axis": {"orient": "bottom", "title": null, "values": [1000,1050,1100,1150,1200,1250,1300,1350,1400,1450,1500,1550,1600,1650,1700,1750,1800,1850,1900,1950], "format": "d", "labelExpr": "datum.value % 200 === 0 ? datum.label : ''", "tickSize": {"condition": {"test": "datum.value % 200 === 0", "value": 22}, "value": 11}, "tickWidth": {"condition": {"test": "datum.value % 200 === 0", "value": 2}, "value": 1.3}, "labelPadding": 21}},
  "y": {"field": "k", "type": "quantitative", "scale": {"domain": [-2, 1.5], "nice": false, "zero": false},
   "axis": {"orient": "left", "title": null, "values": [-2,-1.9,-1.8,-1.7,-1.6,-1.5,-1.4,-1.3,-1.2,-1.1,-1,-0.9,-0.8,-0.7,-0.6,-0.5,-0.4,-0.3,-0.2,-0.1,0,0.1,0.2,0.3,0.4,0.5,0.6,0.7,0.8,0.9,1,1.1,1.2,1.3,1.4,1.5], "labelExpr": "abs(round(datum.value*10)) % 5 === 0 ? replace(format(datum.value, '.1f'), '\u2212', '-') : ''", "tickSize": {"condition": {"test": "abs(round(datum.value*10)) % 5 === 0", "value": 22}, "value": 10}, "tickWidth": {"condition": {"test": "abs(round(datum.value*10)) % 5 === 0", "value": 2}, "value": 1.3}, "labelPadding": 18}}}},
{"data": {"name": "p2"}, "mark": {"type": "line", "color": "#e8141e", "strokeWidth": 1.1},
 "encoding": {
  "x": {"field": "t", "type": "quantitative", "scale": {"domain": [1000, 1980], "nice": false, "zero": false},
   "axis": {"orient": "top", "title": null, "labels": false, "values": [1000,1050,1100,1150,1200,1250,1300,1350,1400,1450,1500,1550,1600,1650,1700,1750,1800,1850,1900,1950], "tickSize": {"condition": {"test": "datum.value % 200 === 0", "value": 22}, "value": 11}, "tickWidth": {"condition": {"test": "datum.value % 200 === 0", "value": 2}, "value": 1.3}}},
  "y": {"field": "r", "type": "quantitative", "scale": {"domain": [-2, 1.5], "nice": false, "zero": false},
   "axis": {"orient": "right", "title": null, "labels": false, "values": [-2,-1.9,-1.8,-1.7,-1.6,-1.5,-1.4,-1.3,-1.2,-1.1,-1,-0.9,-0.8,-0.7,-0.6,-0.5,-0.4,-0.3,-0.2,-0.1,0,0.1,0.2,0.3,0.4,0.5,0.6,0.7,0.8,0.9,1,1.1,1.2,1.3,1.4,1.5], "tickSize": {"condition": {"test": "abs(round(datum.value*10)) % 5 === 0", "value": 22}, "value": 10}, "tickWidth": {"condition": {"test": "abs(round(datum.value*10)) % 5 === 0", "value": 2}, "value": 1.3}}}}},
{"data": {"values": [{}]}, "mark": {"type": "rule", "color": "#555", "strokeWidth": 1},
 "encoding": {"y": {"datum": 0, "type": "quantitative", "scale": {"domain": [-2, 1.5], "nice": false, "zero": false}, "axis": null}}},
{"data": {"name": "s2"}, "mark": {"type": "line", "color": "#000000", "strokeWidth": 2.6, "interpolate": "monotone"},
 "encoding": {"x": {"field": "t", "type": "quantitative", "scale": {"domain": [1000, 1980], "nice": false, "zero": false}, "axis": null}, "y": {"field": "k", "type": "quantitative", "scale": {"domain": [-2, 1.5], "nice": false, "zero": false}, "axis": null}}},
{"data": {"name": "s2"}, "mark": {"type": "line", "color": "#8b0000", "strokeWidth": 2.6, "interpolate": "monotone"},
 "encoding": {"x": {"field": "t", "type": "quantitative", "scale": {"domain": [1000, 1980], "nice": false, "zero": false}, "axis": null}, "y": {"field": "r", "type": "quantitative", "scale": {"domain": [-2, 1.5], "nice": false, "zero": false}, "axis": null}}},
{"data": {"values": [{}]}, "mark": {"type": "text", "text": "CSM_RANKorderMinMax", "align": "left", "baseline": "alphabetic", "fontSize": 24.5, "font": "DejaVu Sans", "color": "black"},
 "encoding": {"x": {"datum": 1000, "type": "quantitative", "scale": {"domain": [1000, 1980], "nice": false, "zero": false}, "axis": null}, "y": {"datum": 1.81, "type": "quantitative", "scale": {"domain": [-2, 1.5], "nice": false, "zero": false}, "axis": null}}},
{"data": {"values": [{}]}, "mark": {"type": "text", "text": "non-rescaled", "align": "center", "baseline": "alphabetic", "fontSize": 24.5, "font": "DejaVu Sans", "color": "black"},
 "encoding": {"x": {"datum": 1490, "type": "quantitative", "scale": {"domain": [1000, 1980], "nice": false, "zero": false}, "axis": null}, "y": {"datum": 1.77, "type": "quantitative", "scale": {"domain": [-2, 1.5], "nice": false, "zero": false}, "axis": null}}},
{"data": {"values": [{}]}, "mark": {"type": "text", "text": "Calibration 1800-1980", "align": "right", "baseline": "alphabetic", "fontSize": 24.5, "font": "DejaVu Sans", "color": "black"},
 "encoding": {"x": {"datum": 1980, "type": "quantitative", "scale": {"domain": [1000, 1980], "nice": false, "zero": false}, "axis": null}, "y": {"datum": 1.77, "type": "quantitative", "scale": {"domain": [-2, 1.5], "nice": false, "zero": false}, "axis": null}}}
]
},
{
"width": 998, "height": 319,
"resolve": {"axis": {"x": "independent", "y": "independent"}},
"layer": [
{"data": {"name": "p3"}, "mark": {"type": "line", "color": "#1a1a1a", "strokeWidth": 1},
 "encoding": {
  "x": {"field": "t", "type": "quantitative", "scale": {"domain": [1000, 1980], "nice": false, "zero": false},
   "axis": {"orient": "bottom", "title": null, "values": [1000,1050,1100,1150,1200,1250,1300,1350,1400,1450,1500,1550,1600,1650,1700,1750,1800,1850,1900,1950], "format": "d", "labelExpr": "datum.value % 200 === 0 ? datum.label : ''", "tickSize": {"condition": {"test": "datum.value % 200 === 0", "value": 22}, "value": 11}, "tickWidth": {"condition": {"test": "datum.value % 200 === 0", "value": 2}, "value": 1.3}, "labelPadding": 21}},
  "y": {"field": "k", "type": "quantitative", "scale": {"domain": [-2, 1.5], "nice": false, "zero": false, "range": [319, 16]},
   "axis": {"orient": "left", "title": null, "values": [-2,-1.9,-1.8,-1.7,-1.6,-1.5,-1.4,-1.3,-1.2,-1.1,-1,-0.9,-0.8,-0.7,-0.6,-0.5,-0.4,-0.3,-0.2,-0.1,0,0.1,0.2,0.3,0.4,0.5,0.6,0.7,0.8,0.9,1,1.1,1.2,1.3,1.4,1.5], "labelExpr": "abs(round(datum.value*10)) % 5 === 0 ? replace(format(datum.value, '.1f'), '\u2212', '-') : ''", "tickSize": {"condition": {"test": "abs(round(datum.value*10)) % 5 === 0", "value": 22}, "value": 10}, "tickWidth": {"condition": {"test": "abs(round(datum.value*10)) % 5 === 0", "value": 2}, "value": 1.3}, "labelPadding": 18}}}},
{"data": {"name": "p3"}, "mark": {"type": "line", "color": "#e8141e", "strokeWidth": 1.1},
 "encoding": {
  "x": {"field": "t", "type": "quantitative", "scale": {"domain": [1000, 1980], "nice": false, "zero": false},
   "axis": {"orient": "top", "offset": -16, "title": null, "labels": false, "values": [1000,1050,1100,1150,1200,1250,1300,1350,1400,1450,1500,1550,1600,1650,1700,1750,1800,1850,1900,1950], "tickSize": {"condition": {"test": "datum.value % 200 === 0", "value": 22}, "value": 11}, "tickWidth": {"condition": {"test": "datum.value % 200 === 0", "value": 2}, "value": 1.3}}},
  "y": {"field": "r", "type": "quantitative", "scale": {"domain": [-2, 1.5], "nice": false, "zero": false, "range": [319, 16]},
   "axis": {"orient": "right", "title": null, "labels": false, "values": [-2,-1.9,-1.8,-1.7,-1.6,-1.5,-1.4,-1.3,-1.2,-1.1,-1,-0.9,-0.8,-0.7,-0.6,-0.5,-0.4,-0.3,-0.2,-0.1,0,0.1,0.2,0.3,0.4,0.5,0.6,0.7,0.8,0.9,1,1.1,1.2,1.3,1.4,1.5], "tickSize": {"condition": {"test": "abs(round(datum.value*10)) % 5 === 0", "value": 22}, "value": 10}, "tickWidth": {"condition": {"test": "abs(round(datum.value*10)) % 5 === 0", "value": 2}, "value": 1.3}}}}},
{"data": {"values": [{}]}, "mark": {"type": "rule", "color": "#555", "strokeWidth": 1},
 "encoding": {"y": {"datum": 0, "type": "quantitative", "scale": {"domain": [-2, 1.5], "nice": false, "zero": false, "range": [319, 16]}, "axis": null}}},
{"data": {"name": "s3"}, "mark": {"type": "line", "color": "#000000", "strokeWidth": 2.6, "interpolate": "monotone"},
 "encoding": {"x": {"field": "t", "type": "quantitative", "scale": {"domain": [1000, 1980], "nice": false, "zero": false}, "axis": null}, "y": {"field": "k", "type": "quantitative", "scale": {"domain": [-2, 1.5], "nice": false, "zero": false, "range": [319, 16]}, "axis": null}}},
{"data": {"name": "s3"}, "mark": {"type": "line", "color": "#8b0000", "strokeWidth": 2.6, "interpolate": "monotone"},
 "encoding": {"x": {"field": "t", "type": "quantitative", "scale": {"domain": [1000, 1980], "nice": false, "zero": false}, "axis": null}, "y": {"field": "r", "type": "quantitative", "scale": {"domain": [-2, 1.5], "nice": false, "zero": false, "range": [319, 16]}, "axis": null}}},
{"data": {"values": [{}]}, "mark": {"type": "text", "text": "CSM_ReOrder", "align": "left", "baseline": "alphabetic", "fontSize": 24.5, "font": "DejaVu Sans", "color": "black"},
 "encoding": {"x": {"datum": 1000, "type": "quantitative", "scale": {"domain": [1000, 1980], "nice": false, "zero": false}, "axis": null}, "y": {"datum": 1.84, "type": "quantitative", "scale": {"domain": [-2, 1.5], "nice": false, "zero": false, "range": [319, 16]}, "axis": null}}},
{"data": {"values": [{}]}, "mark": {"type": "text", "text": "non-rescaled", "align": "center", "baseline": "alphabetic", "fontSize": 24.5, "font": "DejaVu Sans", "color": "black"},
 "encoding": {"x": {"datum": 1347, "type": "quantitative", "scale": {"domain": [1000, 1980], "nice": false, "zero": false}, "axis": null}, "y": {"datum": 1.81, "type": "quantitative", "scale": {"domain": [-2, 1.5], "nice": false, "zero": false, "range": [319, 16]}, "axis": null}}},
{"data": {"values": [{}]}, "mark": {"type": "text", "text": "Calibration on Verification Grid 1850-1980", "align": "right", "baseline": "alphabetic", "fontSize": 24.5, "font": "DejaVu Sans", "color": "black"},
 "encoding": {"x": {"datum": 1982, "type": "quantitative", "scale": {"domain": [1000, 1980], "nice": false, "zero": false}, "axis": null}, "y": {"datum": 1.78, "type": "quantitative", "scale": {"domain": [-2, 1.5], "nice": false, "zero": false, "range": [319, 16]}, "axis": null}}}
]
}
]
}
